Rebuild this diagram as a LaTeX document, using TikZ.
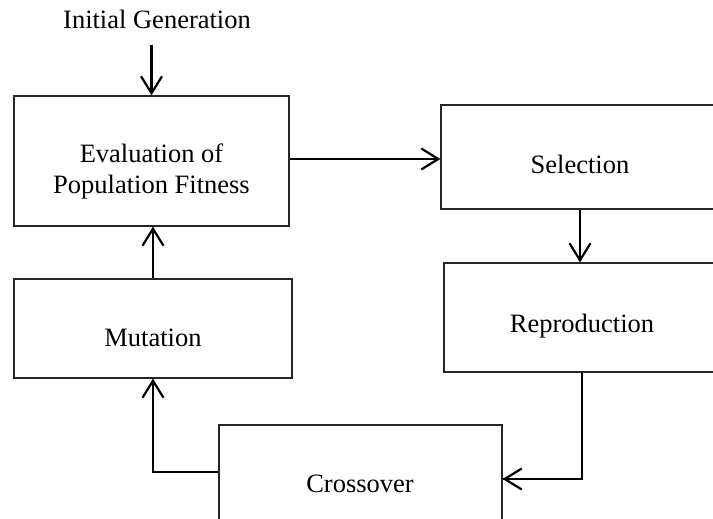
\documentclass[tikz,border=0pt]{standalone}
\usepackage{fontspec}
\setmainfont{Liberation Serif}
\usetikzlibrary{arrows.meta}
\begin{document}
\begin{tikzpicture}[x=1pt,y=-1pt,
  box/.style={draw=black!85, line width=1.3pt, rectangle, inner sep=0pt},
  lbl/.style={inner sep=0pt, font=\fontsize{26.5}{31}\selectfont},
  arr/.style={line width=2.2pt, -{Straight Barb[length=17pt,width=21pt,line width=2.2pt]}},
  link/.style={line width=1.4pt}]
\useasboundingbox (0,0) rectangle (713,519);
\clip (0,0) rectangle (713,519);
\fill[white] (0,0) rectangle (713,519);

% process boxes
\node[box, minimum width=275pt, minimum height=130pt] (eval) at (151.5,161) {};
\node[box, minimum width=278pt, minimum height=104pt] (sel)  at (580,157) {};
\node[box, minimum width=276pt, minimum height=109pt] (rep)  at (582,317.5) {};
\node[box, minimum width=278pt, minimum height=99pt]  (mut)  at (153,328.5) {};
\node[box, minimum width=283pt, minimum height=100pt] (cross) at (360.5,475) {};

% labels
\node[lbl] (init) at (157,19) {Initial Generation};
\node[lbl, align=center, anchor=north] (evalT) at (151.5,144) {Evaluation of\\Population Fitness};
\node[lbl, anchor=base] (selT) at (580,173) {Selection};
\node[lbl, anchor=base] (repT) at (582,332) {Reproduction};
\node[lbl, anchor=base] (mutT) at (153,346) {Mutation};
\node[lbl, anchor=base] (crossT) at (360,492) {Crossover};

% connectors
\draw[arr] ([yshift=-16pt]init.south -| eval.north) -- (eval.north);
\draw[arr] ([yshift=2pt]eval.east) -- ([yshift=2pt]eval.east -| sel.west);
\draw[arr] (sel.south) -- (sel.south |- rep.north);
\draw[arr] (mut.north) -- (mut.north |- eval.south);
\draw[link] (rep.south) |- ([yshift=-4pt]cross.east);
\draw[arr] ([yshift=-4pt]cross.east -| rep.south) -- ([yshift=-4pt]cross.east);
\draw[link] ([yshift=3pt]cross.west) -| ([yshift=-20pt]mut.south);
\draw[arr] ([yshift=3pt]cross.west -| mut.south) -- (mut.south);
\end{tikzpicture}
\end{document}
